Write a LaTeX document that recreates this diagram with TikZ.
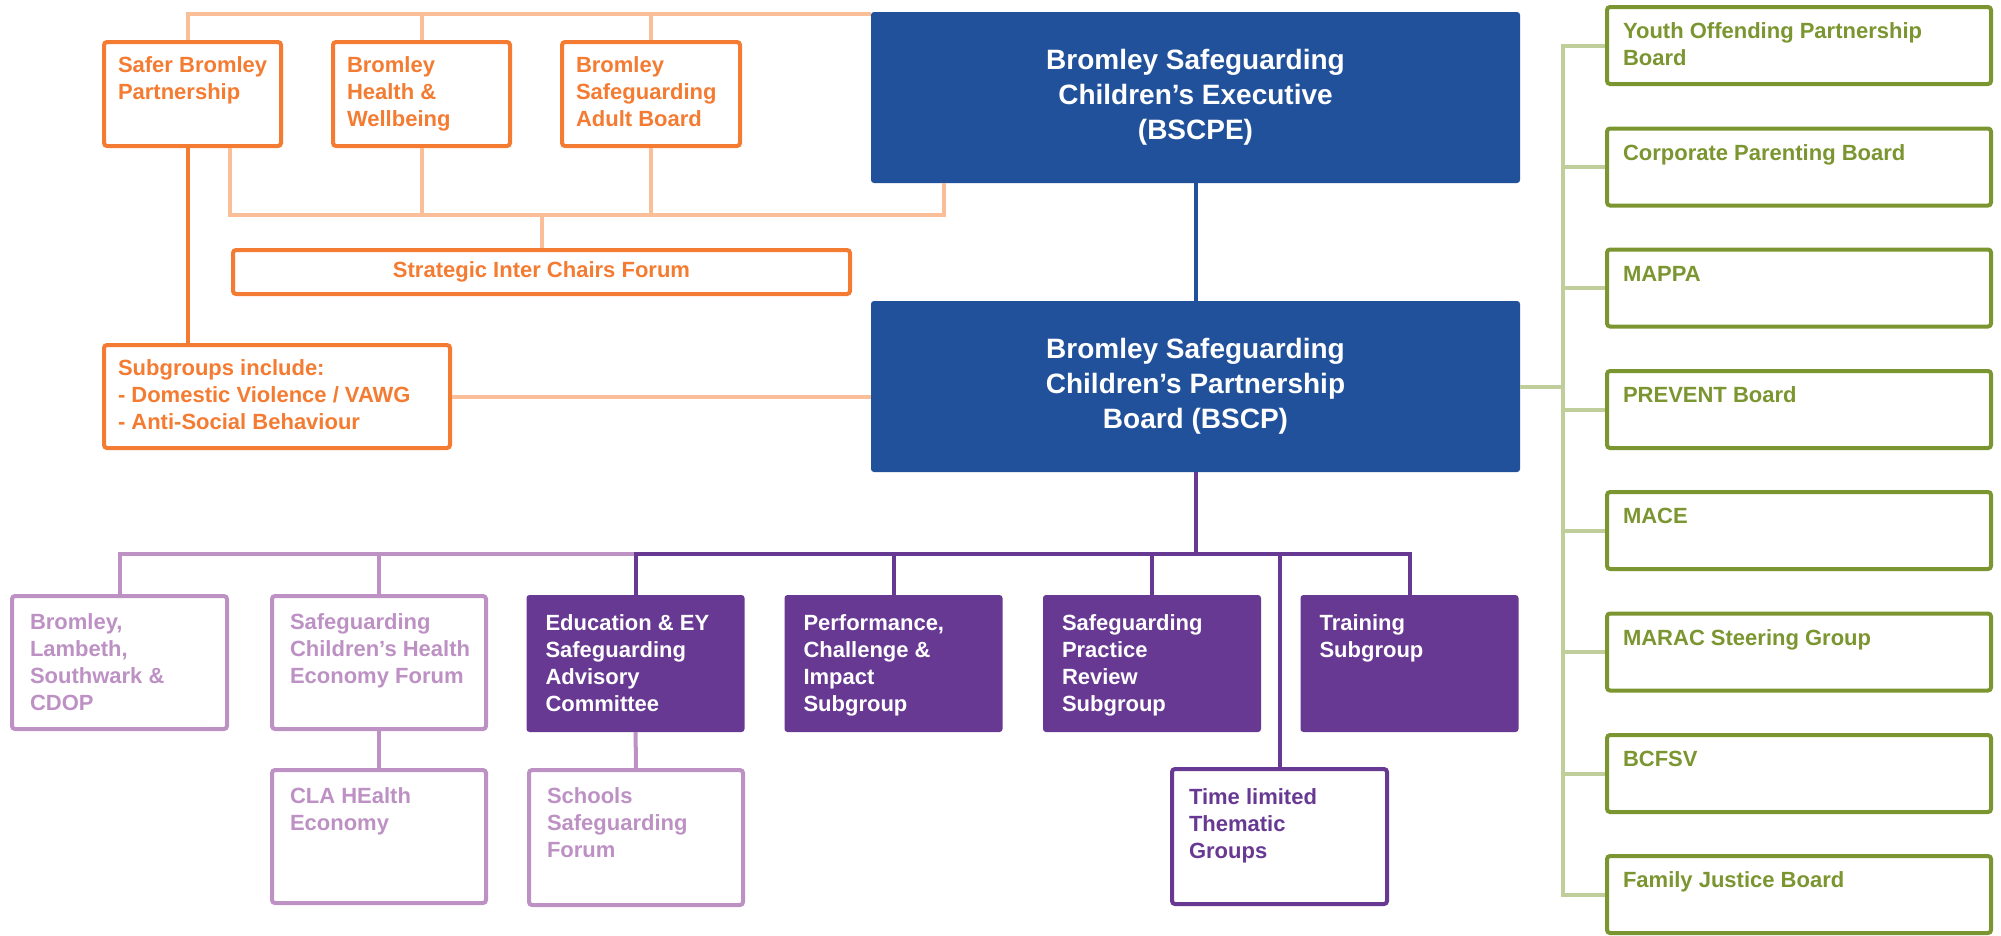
\documentclass[tikz,border=0pt]{standalone}
\usepackage{fontspec}
\setmainfont{Liberation Sans}
\usetikzlibrary{calc}
\definecolor{bsorange}{RGB}{244,123,50}
\definecolor{bspeach}{RGB}{250,190,152}
\definecolor{bsblue}{RGB}{33,81,155}
\definecolor{bspurple}{RGB}{104,57,146}
\definecolor{bslilac}{RGB}{189,145,196}
\definecolor{bsgreen}{RGB}{123,149,48}
\definecolor{bssage}{RGB}{191,206,155}
% text block of a box: inner width, inner height, lines
\newcommand{\boxtext}[3]{\parbox[c][#2pt][t]{#1pt}{%
    \begin{tabular}[t]{@{}l@{}}#3\end{tabular}}}
\tikzset{
    txt/.style={font=\bfseries\fontsize{22}{27}\selectfont},
    obox/.style={txt, draw=bsorange, text=bsorange, line width=4pt,
        rounded corners=3pt, inner xsep=14pt, inner ysep=12pt},
    gbox/.style={txt, draw=bsgreen, text=bsgreen, line width=4pt,
        rounded corners=3pt, inner xsep=16pt, inner ysep=13pt},
    lpbox/.style={txt, draw=bslilac, text=bslilac, line width=4pt,
        rounded corners=3pt, inner xsep=18pt, inner ysep=15pt},
    tbox/.style={txt, draw=bspurple, text=bspurple, line width=4pt,
        rounded corners=3pt, inner xsep=17pt, inner ysep=17pt},
    dpbox/.style={txt, fill=bspurple, text=white, rounded corners=3pt,
        inner xsep=19pt, inner ysep=17pt},
    bbox/.style={fill=bsblue, text=white, rounded corners=3pt, inner sep=0pt,
        minimum width=649pt, minimum height=171pt, align=center,
        font=\bfseries\fontsize{28}{35}\selectfont},
    lo/.style={draw=bspeach, line width=4pt},
    do/.style={draw=bsorange, line width=4pt},
    bl/.style={draw=bsblue, line width=4pt},
    lg/.style={draw=bssage, line width=4pt},
    lp/.style={draw=bslilac, line width=4pt},
    dp/.style={draw=bspurple, line width=4pt},
}
\begin{document}
\begin{tikzpicture}[x=1pt, y=-1pt]
    \useasboundingbox (0,0) rectangle (2001,935);
    % partner boards
    \node[obox] (safer) at (192.5,94) {\boxtext{149}{80}{Safer Bromley\\Partnership}};
    \node[obox] (hwb) at (421.5,94) {\boxtext{149}{80}{Bromley\\Health \&\\Wellbeing}};
    \node[obox] (bsab) at (651,94) {\boxtext{150}{80}{Bromley\\Safeguarding\\Adult Board}};
    \node[obox, inner sep=0pt, minimum width=617pt, minimum height=44pt] (forum)
        at (541.5,272) {Strategic Inter Chairs Forum};
    \node[obox] (sub) at (277,396.5)
        {\boxtext{318}{79}{Subgroups include:\\- Domestic Violence / VAWG\\- Anti-Social Behaviour}};
    % executive and board
    \node[bbox] (bscpe) at (1195.5,97.5) {Bromley Safeguarding\\Children’s Executive\\(BSCPE)};
    \node[bbox] (bscp) at (1195.5,386.5) {Bromley Safeguarding\\Children’s Partnership\\Board (BSCP)};
    % other boards
    \node[gbox] (yopb) at (1799,45.5) {\boxtext{352}{51}{Youth Offending Partnership\\Board}};
    \node[gbox] (cpb) at (1799,167) {\boxtext{352}{51}{Corporate Parenting Board}};
    \node[gbox] (mappa) at (1799,288) {\boxtext{352}{51}{MAPPA}};
    \node[gbox] (prevent) at (1799,409.5) {\boxtext{352}{51}{PREVENT Board}};
    \node[gbox] (mace) at (1799,530.5) {\boxtext{352}{51}{MACE}};
    \node[gbox] (marac) at (1799,652) {\boxtext{352}{51}{MARAC Steering Group}};
    \node[gbox] (bcfsv) at (1799,773.5) {\boxtext{352}{51}{BCFSV}};
    \node[gbox] (fjb) at (1799,894.5) {\boxtext{352}{51}{Family Justice Board}};
    % subgroups of the board
    \node[lpbox] (blsc) at (119.5,662.5) {\boxtext{179}{103}{Bromley,\\Lambeth,\\Southwark \&\\CDOP}};
    \node[lpbox] (schef) at (379,662.5)
        {\boxtext{178}{103}{Safeguarding\\Children’s Health\\Economy Forum}};
    \node[dpbox] (edu) at (635.5,663.5)
        {\boxtext{180}{103}{Education \& EY\\Safeguarding\\Advisory\\Committee}};
    \node[dpbox] (perf) at (893.5,663.5) {\boxtext{180}{103}{Performance,\\Challenge \&\\Impact\\Subgroup}};
    \node[dpbox] (spr) at (1152,663.5) {\boxtext{180}{103}{Safeguarding\\Practice\\Review\\Subgroup}};
    \node[dpbox] (train) at (1409.5,663.5) {\boxtext{180}{103}{Training\\Subgroup}};
    \node[lpbox] (cla) at (379,836.5) {\boxtext{178}{103}{CLA HEalth\\Economy}};
    \node[lpbox] (schools) at (636,837.5) {\boxtext{178}{105}{Schools\\Safeguarding\\Forum}};
    \node[tbox] (tlg) at (1279.5,836.5) {\boxtext{181}{101}{Time limited\\Thematic\\Groups}};

    % orange links
    \coordinate (obus) at (421.5,14);
    \coordinate (ilbus) at (541.5,215);
    \coordinate (eturn) at ([xshift=73pt]bscpe.south west);
    \coordinate (sfoot) at ([xshift=-5pt]safer.south);
    \draw[lo] ([xshift=-5pt]safer.north) |- (obus -| bscpe.west);
    \draw[lo] (hwb.north) -- (hwb.north |- obus);
    \draw[lo] (bsab.north) -- (bsab.north |- obus);
    \draw[lo] ([xshift=37.5pt]safer.south) |- (eturn |- ilbus) -- (eturn);
    \draw[lo] (hwb.south) -- (hwb.south |- ilbus);
    \draw[lo] (bsab.south) -- (bsab.south |- ilbus);
    \draw[lo] (ilbus) -- (forum.north);
    \draw[do] (sfoot) -- (sfoot |- sub.north);
    \draw[lo] (sub.east) -- (sub.east -| bscp.west);
    \draw[bl] (bscpe) -- (bscp);
    % green links
    \coordinate (gbus) at (1563,386.5);
    \draw[lg] (bscp.east) -- (gbus);
    \draw[lg] (yopb.west) -| (gbus) |- (fjb.west);
    \draw[lg] (cpb.west) -- (cpb.west -| gbus);
    \draw[lg] (mappa.west) -- (mappa.west -| gbus);
    \draw[lg] (prevent.west) -- (prevent.west -| gbus);
    \draw[lg] (mace.west) -- (mace.west -| gbus);
    \draw[lg] (marac.west) -- (marac.west -| gbus);
    \draw[lg] (bcfsv.west) -- (bcfsv.west -| gbus);
    % purple links
    \coordinate (pbus) at (1195.5,554);
    \draw[lp] (blsc.north) |- (edu.north |- pbus);
    \draw[lp] (schef.north) -- (schef.north |- pbus);
    \draw[dp] (bscp.south) -- (pbus);
    \draw[dp] (edu.north) |- (pbus) -| (train.north);
    \draw[dp] (perf.north) -- (perf.north |- pbus);
    \draw[dp] (spr.north) -- (spr.north |- pbus);
    \draw[dp] (tlg.north) -- (tlg.north |- pbus);
    \draw[lp] (schef) -- (cla);
    \draw[lp] (edu) -- (schools);
\end{tikzpicture}
\end{document}
